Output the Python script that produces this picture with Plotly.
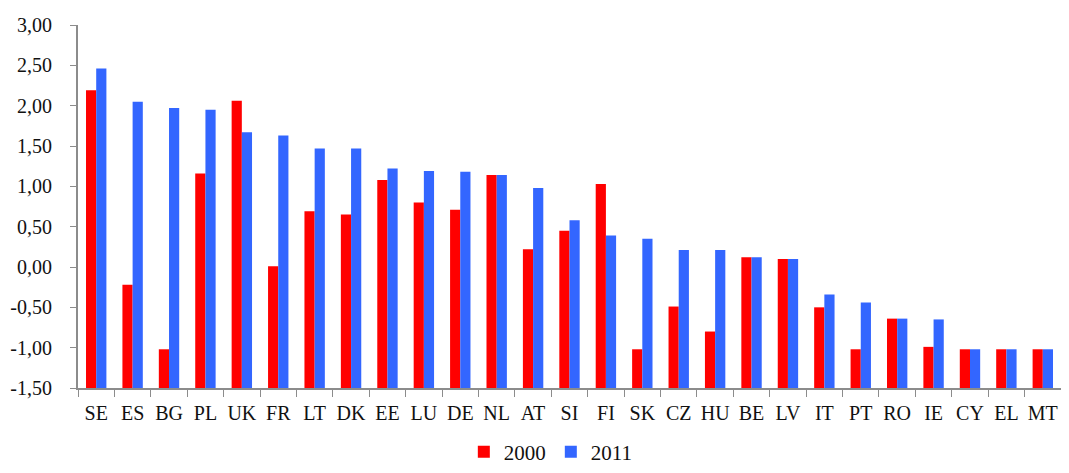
import plotly.graph_objects as go

# Countries and values
countries = ["SE", "ES", "BG", "PL", "UK", "FR", "LT", "DK", "EE", "LU", "DE", "NL", "AT", "SI",
             "FI", "SK", "CZ", "HU", "BE", "LV", "IT", "PT", "RO", "IE", "CY", "EL", "MT"]
v2000 = [2.19, -0.22, -1.02, 1.16, 2.06, 0.01, 0.69, 0.65, 1.08, 0.80, 0.71, 1.14, 0.22, 0.45,
         1.03, -1.02, -0.49, -0.80, 0.12, 0.10, -0.50, -1.02, -0.64, -0.99, -1.02, -1.02, -1.02]
v2011 = [2.46, 2.05, 1.97, 1.95, 1.67, 1.63, 1.47, 1.47, 1.22, 1.19, 1.18, 1.14, 0.98, 0.58,
         0.39, 0.35, 0.21, 0.21, 0.12, 0.10, -0.34, -0.44, -0.64, -0.65, -1.02, -1.02, -1.02]

# y tick labels (hyphen minus, comma decimals as in the original)
ytick_vals = [-1.5, -1.0, -0.5, 0.0, 0.5, 1.0, 1.5, 2.0, 2.5, 3.0]
ytick_text = ["-1,50", "-1,00", "-0,50", "0,00", "0,50", "1,00", "1,50", "2,00", "2,50", "3,00"]

BASE = -1.5  # bars rise from the bottom of the axis
FONT = "Liberation Serif, DejaVu Serif, serif"

fig = go.Figure()
fig.add_trace(go.Bar(x=countries, y=[v - BASE for v in v2000], base=BASE, name="2000",
                     marker=dict(color="#FF0000", line=dict(width=0))))
fig.add_trace(go.Bar(x=countries, y=[v - BASE for v in v2011], base=BASE, name="2011",
                     marker=dict(color="#3366FF", line=dict(width=0))))

# page body has an 8px margin, so the figure is shrunk to fit the window
fig.update_layout(
    width=1053, height=457,
    margin=dict(l=70, r=0, t=17, b=77),
    paper_bgcolor="white", plot_bgcolor="white",
    font=dict(family=FONT, size=20, color="#111111"),
    barmode="group", bargap=0.44, bargroupgap=0,
    showlegend=True,
    legend=dict(orientation="h", x=0.481, xanchor="center", yref="container", y=0.028, yanchor="middle",
                font=dict(size=21), itemwidth=30, traceorder="normal"),
    xaxis=dict(showline=True, linecolor="#8c8c8c", linewidth=2, ticks="outside", tickson="boundaries",
               ticklen=7, tickcolor="#8c8c8c", tickwidth=1, showgrid=False, zeroline=False,
               tickfont=dict(size=20), tickangle=0, ticklabelstandoff=6, automargin=False),
    yaxis=dict(range=[-1.5, 3.0], tickmode="array", tickvals=ytick_vals, ticktext=ytick_text,
               showline=True, linecolor="#8c8c8c", linewidth=2, ticks="outside", ticklen=6,
               tickcolor="#8c8c8c", showgrid=False, zeroline=False, tickfont=dict(size=20),
               ticklabelstandoff=14, automargin=False),
)

fig.write_html("out.html")
